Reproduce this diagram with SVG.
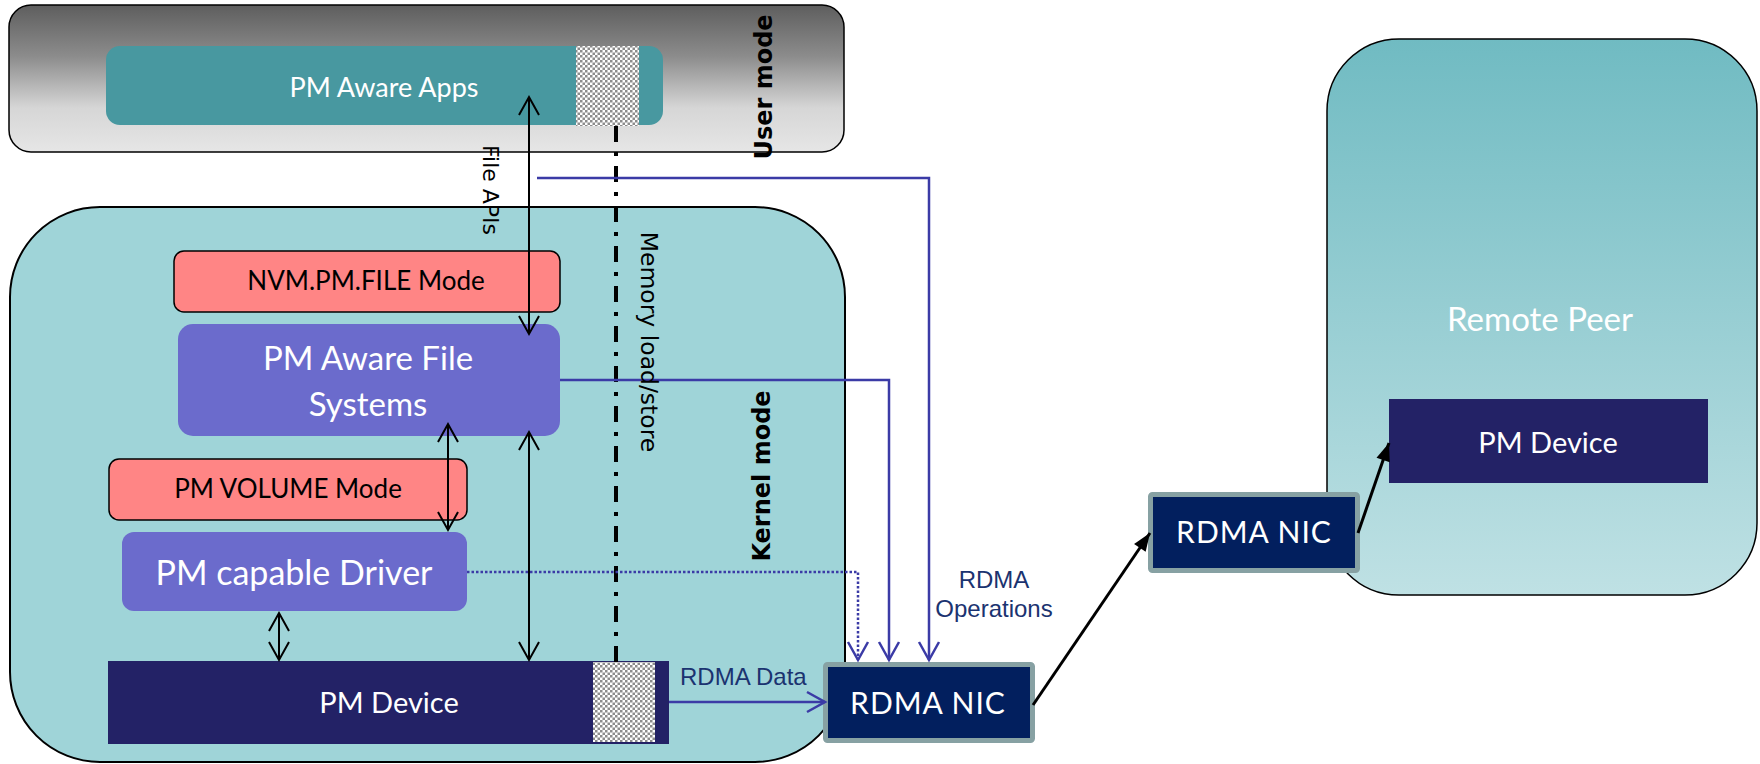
<svg xmlns="http://www.w3.org/2000/svg" width="1760" height="764" viewBox="0 0 1760 764">
  <defs>
    <style>
      .gill { font-family: Lato, "Open Sans", sans-serif; }
      .white { fill: #ffffff; }
      .dark { fill: #000000; }
      .mode { font-family: "DejaVu Sans", sans-serif; font-weight: bold; font-size: 24px; fill: #000; }
      .vlabel { font-family: "DejaVu Sans", sans-serif; font-size: 22px; fill: #000; }
      .vlabel.long { font-size: 23.5px; }
      .rdma { font-family: "Liberation Sans", Arial, sans-serif; font-size: 24px; fill: #1b3370; }
      .pmdev { fill: #232266; }
      .nic { fill: #021f5e; stroke: #87a1a3; stroke-width: 5; }
      .fsbox { fill: #6b6bcc; }
      .modebox { fill: #ff8585; stroke: #000; stroke-width: 1.5; }
      .blk { stroke: #000; stroke-width: 2; fill: none; }
      .blue { stroke: #3b3ba6; stroke-width: 2.5; fill: none; }
    </style>
    <linearGradient id="userGrad" x1="0" y1="0" x2="0" y2="1">
      <stop offset="0" stop-color="#5e5e5e"/>
      <stop offset="0.35" stop-color="#8c8c8c"/>
      <stop offset="0.7" stop-color="#d6d6d6"/>
      <stop offset="1" stop-color="#e6e6e6"/>
    </linearGradient>
    <linearGradient id="peerGrad" x1="0" y1="0" x2="0" y2="1">
      <stop offset="0" stop-color="#70bbc2"/>
      <stop offset="1" stop-color="#bfe1e4"/>
    </linearGradient>
    <pattern id="checker" width="5" height="5" patternUnits="userSpaceOnUse">
      <rect width="5" height="5" fill="#ffffff"/>
      <rect width="2.5" height="2.5" fill="#8c8c8c"/>
      <rect x="2.5" y="2.5" width="2.5" height="2.5" fill="#8c8c8c"/>
    </pattern>
    <marker id="openBlack" markerUnits="userSpaceOnUse" markerWidth="24" markerHeight="24" refX="20" refY="12" orient="auto-start-reverse" overflow="visible">
      <path d="M2,2 L20,12 L2,22" fill="none" stroke="#000" stroke-width="2"/>
    </marker>
    <marker id="openBlue" markerUnits="userSpaceOnUse" markerWidth="24" markerHeight="24" refX="20" refY="12" orient="auto" overflow="visible">
      <path d="M2,2 L20,12 L2,22" fill="none" stroke="#3b3ba6" stroke-width="2.5"/>
    </marker>
    <marker id="solidBlack" markerUnits="userSpaceOnUse" markerWidth="20" markerHeight="16" refX="18" refY="7" orient="auto" overflow="visible">
      <path d="M0,0 L18,7 L0,14 z" fill="#000"/>
    </marker>
  </defs>

  <rect width="1760" height="764" fill="#ffffff"/>

  <!-- containers -->
  <g id="user-mode">
    <rect x="9" y="5" width="835" height="147" rx="22" fill="url(#userGrad)" stroke="#000" stroke-width="1.5"/>
    <text class="mode" transform="translate(772,87) rotate(-90)" text-anchor="middle">User mode</text>
  </g>

  <g id="kernel-mode">
    <rect x="10" y="207" width="835" height="555" rx="90" fill="#9fd4d8" stroke="#000" stroke-width="2"/>
    <text class="mode" transform="translate(770,476) rotate(-90)" text-anchor="middle">Kernel mode</text>
  </g>

  <g id="remote-peer">
    <rect x="1327" y="39" width="430" height="556" rx="72" fill="url(#peerGrad)" stroke="#000" stroke-width="1.5"/>
    <text class="gill white" x="1540" y="331" font-size="33" text-anchor="middle">Remote Peer</text>
  </g>

  <!-- nodes -->
  <g id="pm-aware-apps">
    <rect x="106" y="46" width="557" height="79" rx="14" fill="#4898a0"/>
    <rect x="576" y="46" width="63" height="80" fill="url(#checker)"/>
    <text class="gill white" x="384" y="97" font-size="27" text-anchor="middle">PM Aware Apps</text>
  </g>

  <g id="nvm-pm-file-mode">
    <rect class="modebox" x="174" y="251" width="386" height="61" rx="10"/>
    <text class="gill dark" x="366" y="290" font-size="26" text-anchor="middle">NVM.PM.FILE Mode</text>
  </g>

  <g id="pm-aware-file-systems">
    <rect class="fsbox" x="178" y="324" width="382" height="112" rx="15"/>
    <text class="gill white" x="368" y="370" font-size="33" text-anchor="middle">PM Aware File</text>
    <text class="gill white" x="368" y="416" font-size="33" text-anchor="middle">Systems</text>
  </g>

  <g id="pm-volume-mode">
    <rect class="modebox" x="109" y="459" width="358" height="61" rx="10"/>
    <text class="gill dark" x="288" y="498" font-size="26" text-anchor="middle">PM VOLUME Mode</text>
  </g>

  <g id="pm-capable-driver">
    <rect class="fsbox" x="122" y="532" width="345" height="79" rx="12"/>
    <text class="gill white" x="294" y="585" font-size="34" text-anchor="middle">PM capable Driver</text>
  </g>

  <g id="pm-device-local">
    <rect class="pmdev" x="108" y="661" width="561" height="83"/>
    <rect x="593" y="662" width="62" height="80" fill="url(#checker)"/>
    <text class="gill white" x="389" y="713" font-size="29" text-anchor="middle">PM Device</text>
  </g>

  <g id="rdma-nic-local">
    <rect class="nic" x="825.5" y="664.5" width="207" height="76" rx="2"/>
    <text class="gill white" x="928" y="714" font-size="30" letter-spacing="1" text-anchor="middle">RDMA NIC</text>
  </g>

  <g id="rdma-nic-remote">
    <rect class="nic" x="1150.5" y="494.5" width="207" height="76" rx="2"/>
    <text class="gill white" x="1254" y="543" font-size="30" letter-spacing="1" text-anchor="middle">RDMA NIC</text>
  </g>

  <g id="pm-device-remote">
    <rect class="pmdev" x="1389" y="399" width="319" height="84"/>
    <text class="gill white" x="1548" y="453" font-size="29" text-anchor="middle">PM Device</text>
  </g>

  <!-- connectors -->
  <g id="connectors">
    <!-- file API path and local data paths -->
    <line class="blk" x1="529" y1="97" x2="529" y2="334" marker-start="url(#openBlack)" marker-end="url(#openBlack)"/>
    <line class="blk" x1="529" y1="432" x2="529" y2="660" marker-start="url(#openBlack)" marker-end="url(#openBlack)"/>
    <line class="blk" x1="448" y1="424" x2="448" y2="530" marker-start="url(#openBlack)" marker-end="url(#openBlack)"/>
    <line class="blk" x1="279" y1="613" x2="279" y2="660" marker-start="url(#openBlack)" marker-end="url(#openBlack)"/>

    <!-- direct memory load/store -->
    <line x1="616" y1="126" x2="616" y2="662" stroke="#000" stroke-width="4" stroke-dasharray="16 10 4 10"/>

    <!-- RDMA operations into the local NIC -->
    <polyline class="blue" points="537,178 929,178 929,660" marker-end="url(#openBlue)"/>
    <polyline class="blue" points="560,380 889,380 889,660" marker-end="url(#openBlue)"/>
    <polyline class="blue" points="467,572 858,572 858,660" stroke-width="3" stroke-dasharray="2.5 2" marker-end="url(#openBlue)"/>
    <line class="blue" x1="669" y1="702" x2="825" y2="702" marker-end="url(#openBlue)"/>

    <!-- NIC to NIC to remote device -->
    <line x1="1033" y1="705" x2="1150" y2="533" stroke="#000" stroke-width="3" marker-end="url(#solidBlack)"/>
    <line x1="1358" y1="533" x2="1389" y2="443" stroke="#000" stroke-width="3" marker-end="url(#solidBlack)"/>

    <!-- connector labels -->
    <text class="vlabel" transform="translate(483,190) rotate(90)" text-anchor="middle">File APIs</text>
    <text class="vlabel long" transform="translate(641,342) rotate(90)" text-anchor="middle">Memory load/store</text>
    <text class="rdma" x="680" y="685">RDMA Data</text>
    <text class="rdma" x="994" y="588" text-anchor="middle">RDMA</text>
    <text class="rdma" x="994" y="617" text-anchor="middle">Operations</text>
  </g>
</svg>
